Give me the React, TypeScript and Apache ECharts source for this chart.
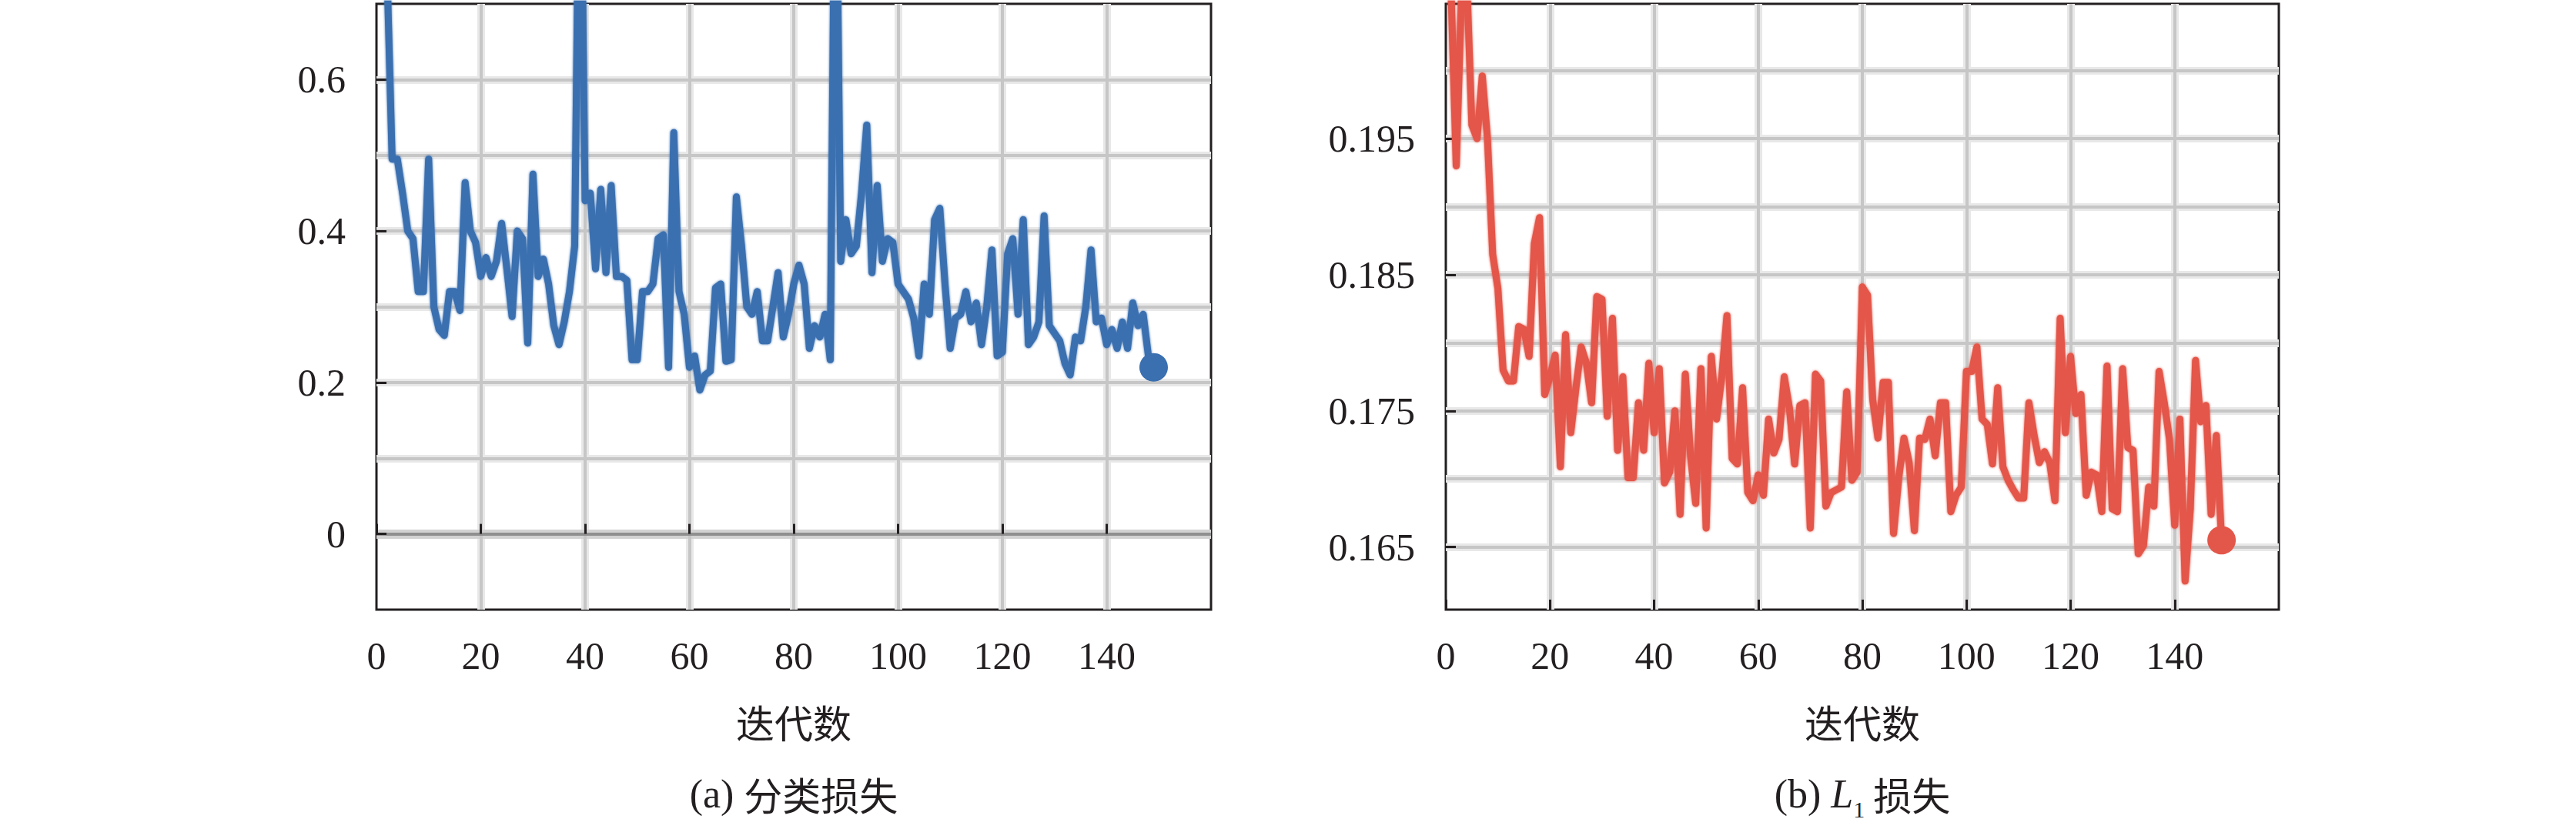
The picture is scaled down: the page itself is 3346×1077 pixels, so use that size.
import React, { useEffect, useRef } from "react";
import * as echarts from "echarts";

// ---------- data ----------
const clsLoss = [
  1.3, 0.95, 0.75, 0.495, 0.495, 0.45, 0.4, 0.39, 0.32, 0.32,
  0.495, 0.3, 0.27, 0.262, 0.32, 0.32, 0.295, 0.464, 0.4, 0.385,
  0.34, 0.365, 0.34, 0.36, 0.41, 0.35, 0.287, 0.4, 0.39, 0.252,
  0.475, 0.34, 0.363, 0.33, 0.275, 0.25, 0.28, 0.32, 0.38, 1.0,
  0.44, 0.45, 0.35, 0.455, 0.345, 0.46, 0.34, 0.34, 0.335, 0.23,
  0.23, 0.32, 0.32, 0.33, 0.39, 0.395, 0.22, 0.53, 0.32, 0.29,
  0.22, 0.235, 0.19, 0.21, 0.215, 0.325, 0.33, 0.228, 0.23, 0.445,
  0.38, 0.3, 0.29, 0.32, 0.255, 0.255, 0.3, 0.345, 0.26, 0.29,
  0.33, 0.355, 0.33, 0.245, 0.275, 0.26, 0.29, 0.23, 1.0, 0.36,
  0.415, 0.37, 0.38, 0.45, 0.54, 0.345, 0.46, 0.36, 0.39, 0.385,
  0.33, 0.32, 0.31, 0.285, 0.235, 0.33, 0.29, 0.415, 0.43, 0.33,
  0.245, 0.285, 0.29, 0.32, 0.28, 0.305, 0.25, 0.3, 0.375, 0.235,
  0.24, 0.37, 0.39, 0.29, 0.415, 0.25, 0.26, 0.28, 0.42, 0.275,
  0.265, 0.255, 0.225, 0.21, 0.26, 0.255, 0.3, 0.375, 0.28, 0.285,
  0.25, 0.27, 0.245, 0.28, 0.245, 0.305, 0.275, 0.29, 0.235, 0.22,
];

const l1Loss = [
  0.212, 0.206, 0.193, 0.2055, 0.207, 0.196, 0.195, 0.1996, 0.195, 0.1865,
  0.184, 0.178, 0.1772, 0.1772, 0.1812, 0.181, 0.179, 0.1873, 0.1892, 0.1762,
  0.1775, 0.1791, 0.1709, 0.1806, 0.1734, 0.1767, 0.1797, 0.1785, 0.1756, 0.1834,
  0.1832, 0.1746, 0.1818, 0.1721, 0.1775, 0.1701, 0.1701, 0.1756, 0.1721, 0.1785,
  0.1734, 0.1781, 0.1697, 0.1705, 0.175, 0.1674, 0.1777, 0.1717, 0.1682, 0.1781,
  0.1664, 0.179, 0.1744, 0.1775, 0.182, 0.1715, 0.1711, 0.1767, 0.169, 0.1684,
  0.1703, 0.1688, 0.1744, 0.1719, 0.1729, 0.1775, 0.1752, 0.1711, 0.1754, 0.1756,
  0.1664, 0.1777, 0.1772, 0.168, 0.169, 0.1692, 0.1694, 0.1764, 0.1699, 0.1705,
  0.1841, 0.1835, 0.1758, 0.173, 0.1771, 0.1771, 0.166, 0.1701, 0.173, 0.1712,
  0.1662, 0.173, 0.1729, 0.1744, 0.1717, 0.1756, 0.1756, 0.1676, 0.1688, 0.1694,
  0.1779, 0.1779, 0.1797, 0.1744, 0.174, 0.1711, 0.1767, 0.1709, 0.1699, 0.1692,
  0.1686, 0.1686, 0.1756, 0.1732, 0.1712, 0.172, 0.1712, 0.1684, 0.1818, 0.1734,
  0.179, 0.1748, 0.1762, 0.1688, 0.1705, 0.1703, 0.1676, 0.1783, 0.1678, 0.1676,
  0.1781, 0.1723, 0.1721, 0.1645, 0.1651, 0.1694, 0.168, 0.1779, 0.1756, 0.1729,
  0.1666, 0.1744, 0.1625, 0.1678, 0.1787, 0.1742, 0.1754, 0.1674, 0.1732, 0.1655,
];

const xTickLabels = [0, 20, 40, 60, 80, 100, 120, 140];
const xGridValues = [20, 40, 60, 80, 100, 120, 140];
const xRange = [0, 160];

const clsYLabels = [0, 0.2, 0.4, 0.6];
const clsYGrid = [0.1, 0.2, 0.3, 0.4, 0.5, 0.6];
const clsYZero = [0];
const clsYRange = [-0.1, 0.7];

const l1YLabels = [0.165, 0.175, 0.185, 0.195];
const l1YGrid = [0.165, 0.17, 0.175, 0.18, 0.185, 0.19, 0.195, 0.2];
const l1YRange = [0.1604, 0.2049];

const xName = "迭代数";
const captionA = "{s|(a) }{c|分类损失}";
const captionB = "{s|(b) }{i|L}{sub|1}{c| 损失}";

// ---------- styles ----------
const SERIF = "'Liberation Serif', 'Times New Roman', serif";
const CJK = "'Noto Sans CJK SC', 'Noto Sans', sans-serif";
const INK = "#231f20";
const BLUE = "#3a6fb0";
const RED = "#e3574a";

function gridAxis(gridIndex: number, range: number[], values: number[], color: string, width: number, z: number) {
  return {
    type: "value",
    gridIndex,
    min: range[0],
    max: range[1],
    z,
    axisLine: { show: false },
    axisLabel: { show: false },
    axisTick: { show: false, customValues: values },
    splitLine: { show: true, lineStyle: { color, width, type: "solid" } },
  };
}

function mainX(gridIndex: number) {
  return {
    type: "value",
    gridIndex,
    min: xRange[0],
    max: xRange[1],
    position: "bottom",
    z: 3,
    axisLine: { show: false },
    axisTick: {
      show: true,
      inside: true,
      length: 13,
      customValues: xTickLabels,
      lineStyle: { color: INK, width: 3 },
    },
    axisLabel: {
      customValues: xTickLabels,
      fontFamily: SERIF,
      fontSize: 50,
      color: INK,
      margin: 35,
    },
    splitLine: { show: false },
    name: xName,
    nameLocation: "middle",
    nameGap: 120,
    nameTextStyle: { fontFamily: CJK, fontSize: 50, color: INK },
  };
}

function mainY(gridIndex: number, range: number[], labels: number[]) {
  return {
    type: "value",
    gridIndex,
    min: range[0],
    max: range[1],
    position: "left",
    z: 3,
    axisLine: { show: false },
    axisTick: {
      show: true,
      inside: true,
      length: 13,
      customValues: labels,
      lineStyle: { color: INK, width: 3 },
    },
    axisLabel: {
      customValues: labels,
      fontFamily: SERIF,
      fontSize: 50,
      color: INK,
      margin: 40,
    },
    splitLine: { show: false },
  };
}

function lineSeries(xi: number, yi: number, data: number[][], color: string) {
  return {
    type: "line",
    xAxisIndex: xi,
    yAxisIndex: yi,
    data,
    showSymbol: false,
    clip: true,
    silent: true,
    z: 5,
    lineStyle: {
      color,
      width: 9,
      join: "round",
      cap: "round",
      shadowBlur: 3,
      shadowColor: color,
    },
  };
}

function endSeries(xi: number, yi: number, data: number[][], color: string) {
  return {
    type: "scatter",
    xAxisIndex: xi,
    yAxisIndex: yi,
    data,
    symbol: "circle",
    symbolSize: 37,
    silent: true,
    z: 6,
    itemStyle: { color, opacity: 1 },
  };
}

function buildOption() {
  const clsPoints = clsLoss.map((v, i) => [i, v]);
  const l1Points = l1Loss.map((v, i) => [i, v]);
  const clsLast = [clsPoints[clsPoints.length - 1]];
  const l1Last = [l1Points[l1Points.length - 1]];

  const halo = "#e8e8e8";
  const core = "#c6c6c6";

  return {
    animation: false,
    backgroundColor: "#ffffff",
    grid: [
      { left: 489, top: 5, width: 1084, height: 787, show: true, borderColor: INK, borderWidth: 3, backgroundColor: "transparent" },
      { left: 1878, top: 5, width: 1082, height: 787, show: true, borderColor: INK, borderWidth: 3, backgroundColor: "transparent" },
    ],
    xAxis: [
      mainX(0), // 0
      gridAxis(0, xRange, xGridValues, halo, 10, 0), // 1
      gridAxis(0, xRange, xGridValues, core, 4, 1), // 2
      mainX(1), // 3
      gridAxis(1, xRange, xGridValues, halo, 10, 0), // 4
      gridAxis(1, xRange, xGridValues, core, 4, 1), // 5
    ],
    yAxis: [
      mainY(0, clsYRange, clsYLabels), // 0
      gridAxis(0, clsYRange, clsYGrid, halo, 10, 0), // 1
      gridAxis(0, clsYRange, clsYGrid, core, 4, 1), // 2
      gridAxis(0, clsYRange, clsYZero, "#d2d2d2", 12, 1), // 3
      gridAxis(0, clsYRange, clsYZero, "#8f8f8f", 4, 2), // 4
      mainY(1, l1YRange, l1YLabels), // 5
      gridAxis(1, l1YRange, l1YGrid, halo, 10, 0), // 6
      gridAxis(1, l1YRange, l1YGrid, core, 4, 1), // 7
    ],
    series: [
      lineSeries(0, 0, clsPoints, BLUE),
      endSeries(0, 0, clsLast, BLUE),
      lineSeries(3, 5, l1Points, RED),
      endSeries(3, 5, l1Last, RED),
    ],
    graphic: [
      {
        type: "text",
        x: 1031,
        y: 1031,
        silent: true,
        style: {
          text: captionA,
          align: "center",
          verticalAlign: "middle",
          fill: INK,
          rich: {
            s: { fontFamily: SERIF, fontSize: 52, lineHeight: 70, fill: INK },
            c: { fontFamily: CJK, fontSize: 50, lineHeight: 70, fill: INK },
          },
        },
      },
      {
        type: "text",
        x: 2419,
        y: 1031,
        silent: true,
        style: {
          text: captionB,
          align: "center",
          verticalAlign: "middle",
          fill: INK,
          rich: {
            s: { fontFamily: SERIF, fontSize: 52, lineHeight: 70, fill: INK },
            i: { fontFamily: SERIF, fontStyle: "italic", fontSize: 52, lineHeight: 70, fill: INK },
            sub: { fontFamily: SERIF, fontSize: 30, lineHeight: 70, verticalAlign: "bottom", fill: INK },
            c: { fontFamily: CJK, fontSize: 50, lineHeight: 70, fill: INK },
          },
        },
      },
    ],
  };
}

export default function App() {
  const ref = useRef<HTMLDivElement>(null);
  useEffect(() => {
    if (!ref.current) return;
    const chart = echarts.init(ref.current, undefined, { renderer: "svg" });
    chart.setOption(buildOption() as any);
    return () => {
      chart.dispose();
    };
  }, []);
  return (
    <div
      ref={ref}
      style={{ position: "fixed", left: 0, top: 0, width: 3346, height: 1077, background: "#ffffff" }}
    />
  );
}
